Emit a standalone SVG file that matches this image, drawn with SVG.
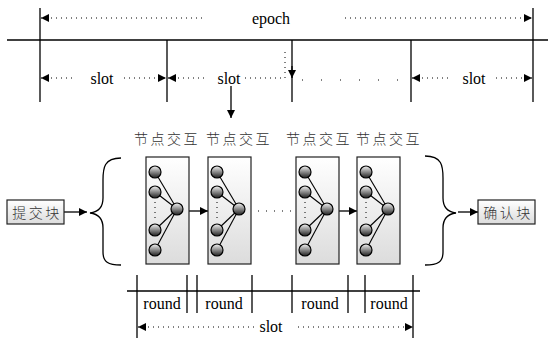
<svg xmlns="http://www.w3.org/2000/svg" width="548" height="343" viewBox="0 0 548 343">
<style>
.ln{stroke:#000;stroke-width:1.3;fill:none}
.dot{stroke:#000;stroke-width:1;stroke-dasharray:1 4;fill:none}
.t{font-family:'Liberation Serif','Times New Roman','DejaVu Serif',serif;font-size:16px;fill:#000}
.cn{font-family:'Noto Sans CJK SC','Noto Sans CJK JP',sans-serif;font-size:14px;font-weight:300;fill:#333;letter-spacing:2.5px}
.box{fill:url(#bg);stroke:#222;stroke-width:1.2}
.nd{fill:url(#cg);stroke:#000;stroke-width:1.2}
.lk{stroke:#000;stroke-width:1.1}
</style>
<defs>
<linearGradient id="bg" x1="0" y1="0" x2="0" y2="1"><stop offset="0" stop-color="#ffffff"/><stop offset="1" stop-color="#dcdcdc"/></linearGradient>
<linearGradient id="cg" x1="0" y1="0" x2="0" y2="1"><stop offset="0" stop-color="#f4f4f4"/><stop offset="0.5" stop-color="#8a8a8a"/><stop offset="1" stop-color="#202020"/></linearGradient>
<marker id="ah" viewBox="0 0 10 10" refX="10" refY="5" markerWidth="8" markerHeight="8" markerUnits="userSpaceOnUse" orient="auto-start-reverse"><path d="M0,0L10,5L0,10z" fill="#000"/></marker>
<g id="net">
<rect class="box" x="0" y="0" width="43" height="107"/>
<line class="lk" x1="9" y1="15" x2="31" y2="52"/>
<line class="lk" x1="9" y1="35" x2="31" y2="52"/>
<line class="lk" x1="9" y1="73" x2="31" y2="52"/>
<line class="lk" x1="9" y1="93" x2="31" y2="52"/>
<circle class="nd" cx="9" cy="15" r="6"/>
<circle class="nd" cx="9" cy="35" r="6"/>
<circle class="nd" cx="9" cy="73" r="6"/>
<circle class="nd" cx="9" cy="93" r="6"/>
<circle class="nd" cx="31" cy="52" r="6"/>
<line class="dot" x1="9" y1="45" x2="9" y2="64"/>
</g>
</defs>

<g id="timeline-top">
<line class="ln" x1="7" y1="40" x2="548" y2="40"/>
<line class="ln" x1="40" y1="8" x2="40" y2="102"/>
<line class="ln" x1="533" y1="8" x2="533" y2="102"/>
<line class="ln" x1="167" y1="40" x2="167" y2="102"/>
<line class="ln" x1="292" y1="40" x2="292" y2="102"/>
<line class="ln" x1="411" y1="40" x2="411" y2="102"/>
</g>

<g id="connectors">
<line class="dot" x1="41" y1="18" x2="205" y2="18" marker-start="url(#ah)"/>
<line class="dot" x1="345" y1="18" x2="532" y2="18" marker-end="url(#ah)"/>
<line class="dot" x1="41" y1="78" x2="76" y2="78" marker-start="url(#ah)"/>
<line class="dot" x1="124" y1="78" x2="166" y2="78" marker-end="url(#ah)"/>
<line class="dot" x1="168" y1="78" x2="206" y2="78" marker-start="url(#ah)"/>
<polyline class="dot" points="245,78 285,78 285,50"/>
<line class="ln" x1="292" y1="66" x2="292" y2="78" marker-end="url(#ah)"/>
<line class="dot" x1="302" y1="80" x2="400" y2="80" style="stroke-dasharray:1 18"/>
<line class="dot" x1="412" y1="78" x2="452" y2="78" marker-start="url(#ah)"/>
<line class="dot" x1="496" y1="78" x2="532" y2="78" marker-end="url(#ah)"/>
<line class="ln" x1="231" y1="86" x2="231" y2="118" marker-end="url(#ah)"/>
<line class="ln" x1="64" y1="212" x2="87" y2="212" marker-end="url(#ah)"/>
<line class="ln" x1="189" y1="211" x2="208" y2="211" marker-end="url(#ah)"/>
<line class="dot" x1="258" y1="211" x2="292" y2="211" style="stroke-dasharray:1 7"/>
<line class="ln" x1="339" y1="211" x2="357" y2="211" marker-end="url(#ah)"/>
<line class="ln" x1="458" y1="212" x2="478" y2="212" marker-end="url(#ah)"/>
<line class="dot" x1="138" y1="327" x2="256" y2="327" marker-start="url(#ah)"/>
<line class="dot" x1="298" y1="327" x2="413" y2="327" marker-end="url(#ah)"/>
</g>

<g id="labels-top">
<text class="t" x="271" y="24" text-anchor="middle">epoch</text>
<text class="t" x="102" y="84" text-anchor="middle">slot</text>
<text class="t" x="229" y="84" text-anchor="middle">slot</text>
<text class="t" x="474" y="84" text-anchor="middle">slot</text>
</g>

<g id="submit">
<rect class="box" x="7" y="200" width="57" height="24"/>
<text class="cn" x="37" y="218" text-anchor="middle">提交块</text>
</g>
<g id="confirm">
<rect class="box" x="478" y="200" width="57" height="24"/>
<text class="cn" x="508" y="218" text-anchor="middle">确认块</text>
</g>

<g id="brace-left"><path class="ln" d="M121,158 C104,158 103,168 103,180 L103,198 C103,208 98,212 90,213 C98,214 103,218 103,228 L103,252 C103,262 108,265 121,265"/></g>
<g id="brace-right"><path class="ln" d="M425,156 C442,156 443,166 443,178 L443,198 C443,208 448,212 456,213 C448,214 443,218 443,228 L443,252 C443,262 438,265 425,265"/></g>

<g id="node1"><text class="cn" x="167" y="144" text-anchor="middle">节点交互</text><use href="#net" x="146" y="157"/></g>
<g id="node2"><text class="cn" x="239" y="144" text-anchor="middle">节点交互</text><use href="#net" x="208" y="157"/></g>
<g id="node3"><text class="cn" x="319" y="144" text-anchor="middle">节点交互</text><use href="#net" x="296" y="157"/></g>
<g id="node4"><text class="cn" x="389" y="144" text-anchor="middle">节点交互</text><use href="#net" x="357" y="157"/></g>

<g id="timeline-bottom">
<line class="ln" x1="127" y1="291" x2="420" y2="291"/>
<line class="ln" x1="137" y1="275" x2="137" y2="338"/>
<line class="ln" x1="413" y1="275" x2="413" y2="338"/>
<line class="ln" x1="187" y1="275" x2="187" y2="313"/>
<line class="ln" x1="197" y1="275" x2="197" y2="313"/>
<line class="ln" x1="252" y1="275" x2="252" y2="313"/>
<line class="ln" x1="292" y1="275" x2="292" y2="313"/>
<line class="ln" x1="348" y1="275" x2="348" y2="313"/>
<line class="ln" x1="365" y1="275" x2="365" y2="313"/>
<text class="t" x="162" y="309" text-anchor="middle">round</text>
<text class="t" x="224" y="309" text-anchor="middle">round</text>
<text class="t" x="320" y="309" text-anchor="middle">round</text>
<text class="t" x="389" y="309" text-anchor="middle">round</text>
<text class="t" x="271" y="332" text-anchor="middle">slot</text>
</g>
</svg>
